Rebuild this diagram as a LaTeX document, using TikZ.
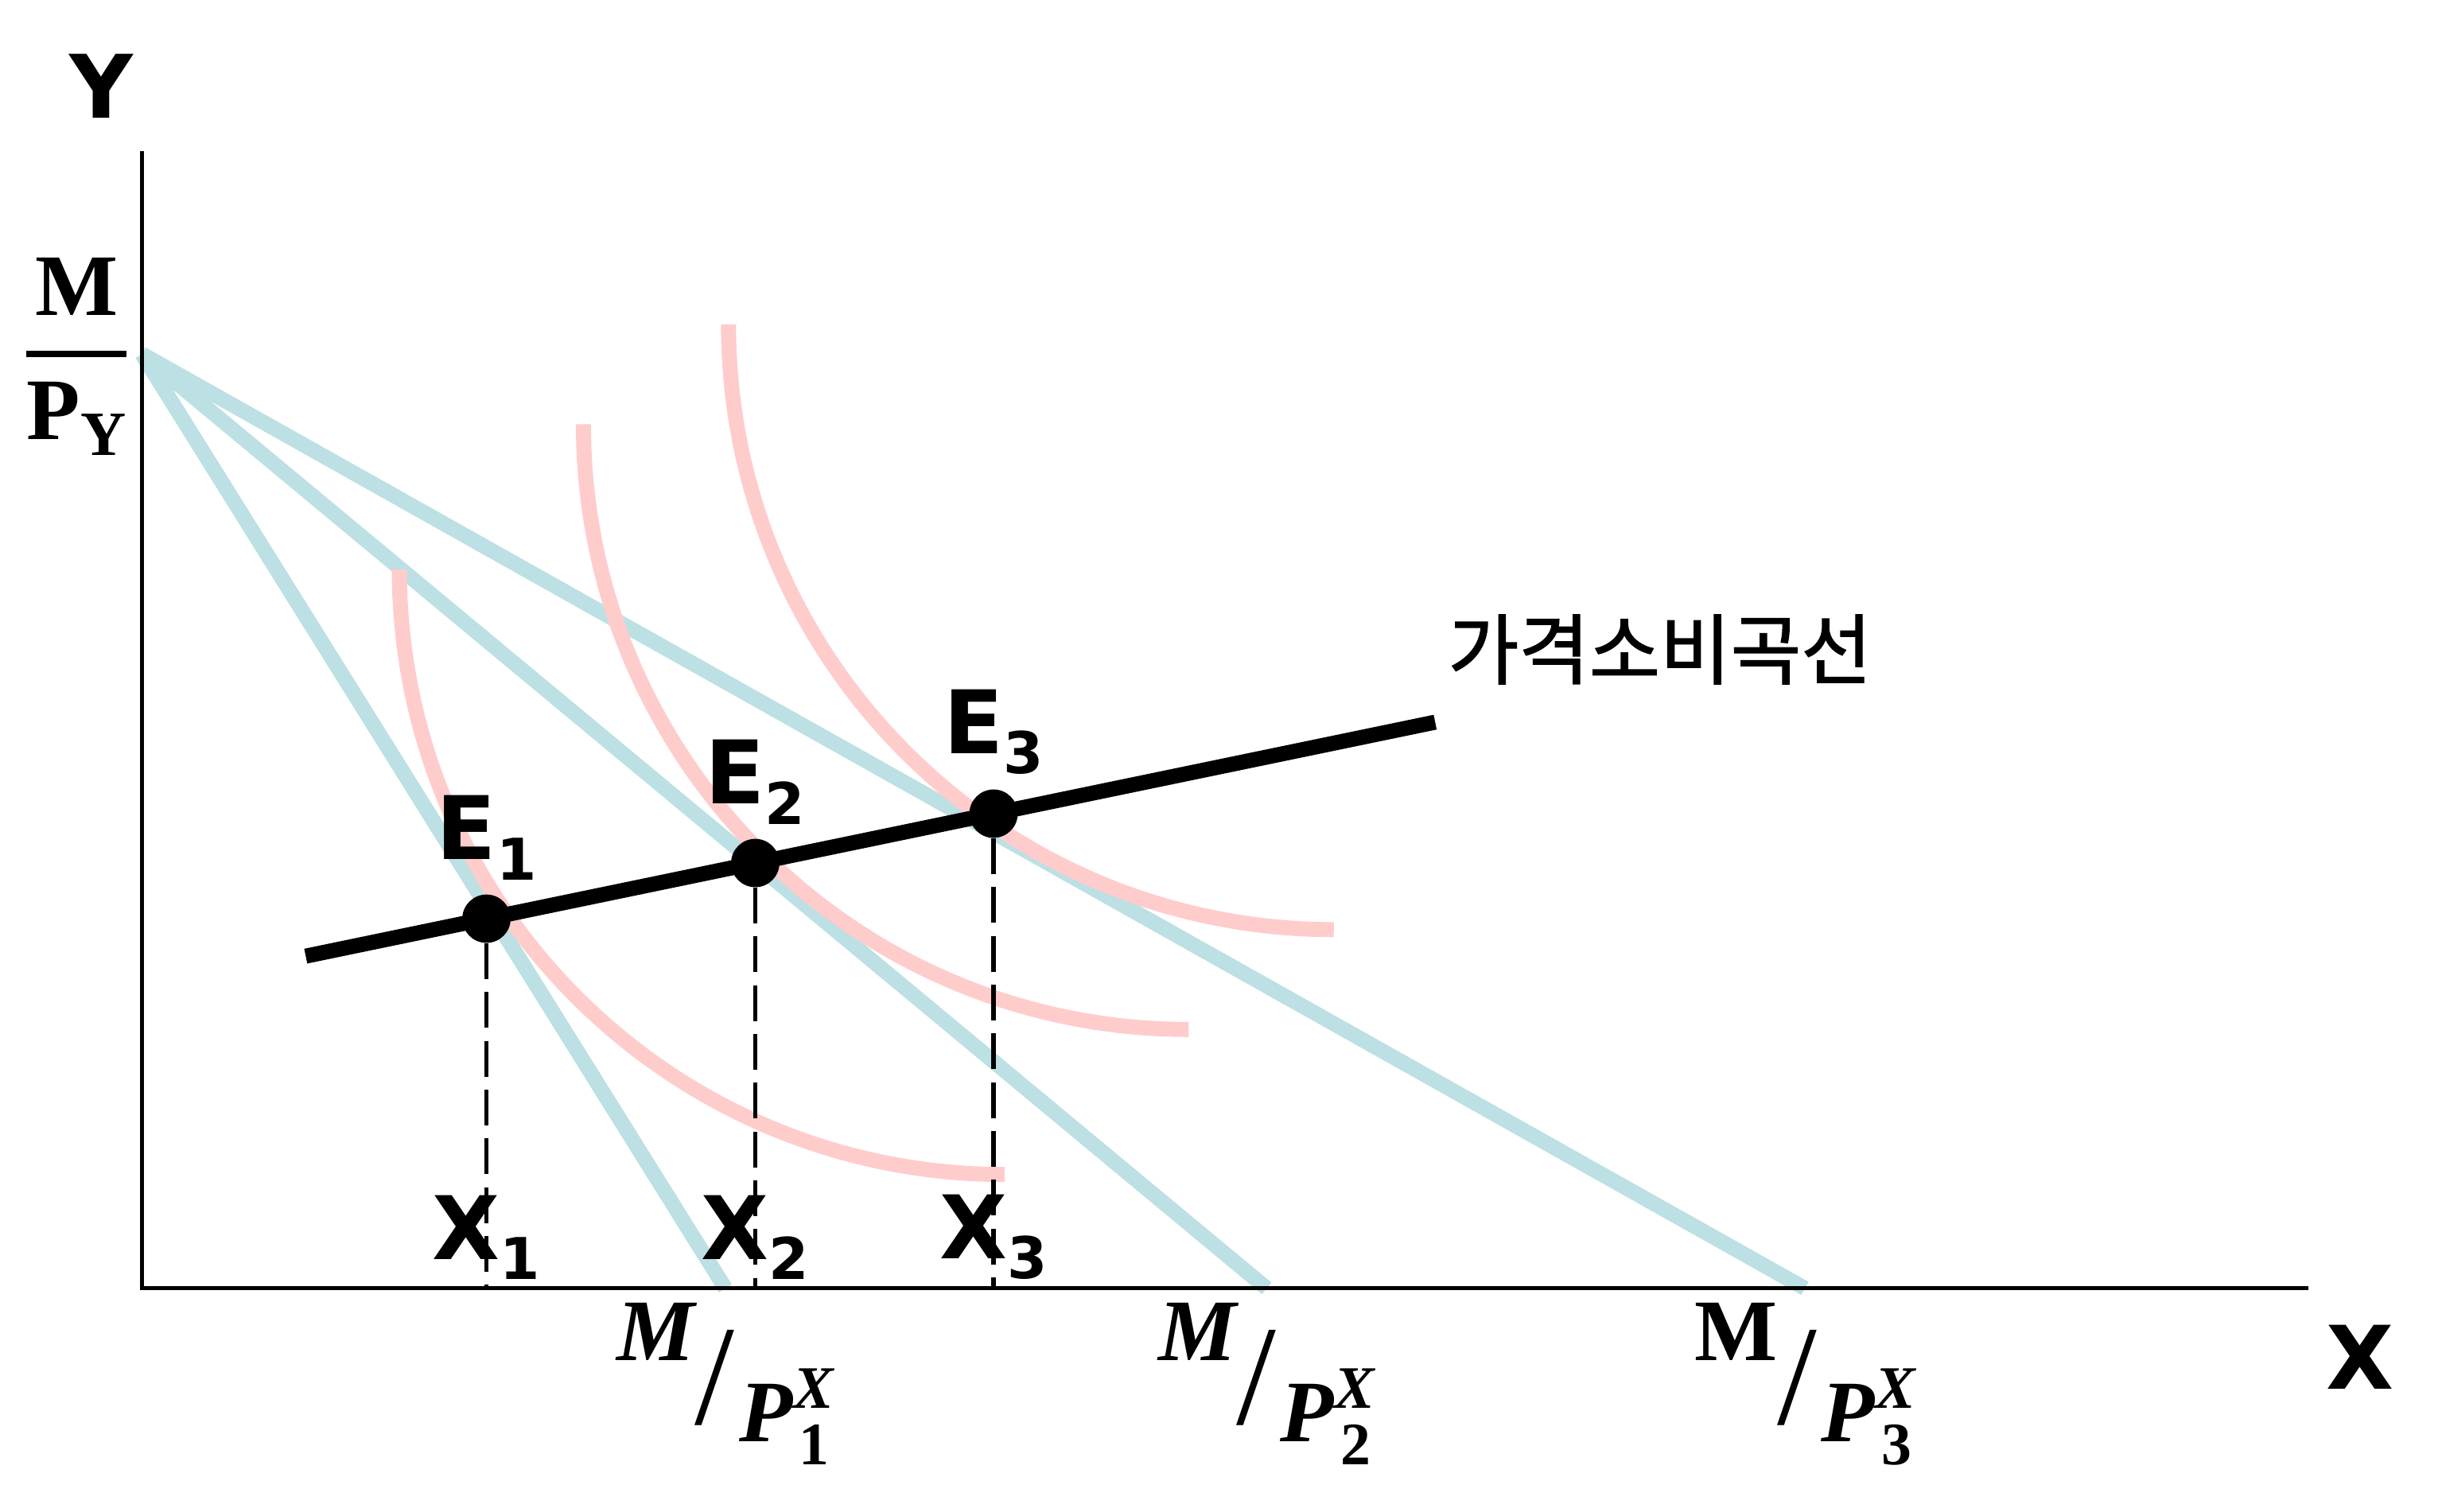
\documentclass[tikz,border=0pt]{standalone}
\usepackage{fontspec}
\usepackage{graphicx}
\usetikzlibrary{positioning}
\newfontfamily\sansfam{DejaVu Sans}
\newfontfamily\seriffam{Liberation Serif}
\newfontfamily\korfam{Noto Sans CJK KR}[FakeBold=1.5]
\definecolor{budgetblue}{RGB}{188,224,227}
\definecolor{icpink}{RGB}{255,204,204}
\newcommand{\lowsub}[1]{\raisebox{-0.23em}{\fontsize{21pt}{21pt}\selectfont #1}} % lowered index
\newcommand{\mpx}[2]{% #1: shape of M, #2: index of the price
  \raisebox{1.04cm}{#1M}%
  \raisebox{0.22cm}{\fontsize{52pt}{52pt}\selectfont\mdseries\upshape /}%
  \kern0.05em\textit{P}%
  \rlap{\raisebox{-0.3cm}{\fontsize{22pt}{22pt}\selectfont\upshape\kern0.1em #2}}%
  \raisebox{0.42cm}{\fontsize{22pt}{22pt}\selectfont\itshape X}%
}

\begin{document}
\begin{tikzpicture}[x=0.02cm, y=0.02cm,
  budget/.style={line width=5.5pt, budgetblue},
  icurve/.style={line width=5.5pt, icpink},
  axis/.style={line width=1.5pt},
  pcc/.style={line width=5.5pt},
  drop/.style={line width=1.6pt, dash pattern=on 13pt off 4.8pt},
  dot/.style={circle, fill=black, minimum size=0.62cm, inner sep=0pt},
  lab/.style={font=\sansfam\bfseries\fontsize{32pt}{32pt}\selectfont, inner sep=1pt},
  slab/.style={font=\seriffam\bfseries\fontsize{32pt}{32pt}\selectfont, inner sep=0pt}]

\useasboundingbox (0,0) rectangle (1568,969);

% Axes
\coordinate (o) at (91,143);
\coordinate (ytop) at (91,872);
\coordinate (xend) at (1480,143);

% Budget lines from the Y intercept
\coordinate (a) at (91,742);
\coordinate (b1) at (465,143);
\coordinate (b2) at (812,143);
\coordinate (b3) at (1157,143);
\foreach \i in {1,2,3}
{
    \draw[budget] (a) -- (b\i);
}

% Indifference curves (quarter circles)
\foreach \x/\y in {256/604,374/697,467/761}
{
    \draw[icurve] (\x,\y) arc[start angle=180, end angle=270, radius=388];
}

\draw[axis] (ytop) -- (o) -- (xend);

% Price consumption curve
\coordinate (p1) at (196,356);
\coordinate (p2) at (920,506);
\draw[pcc] (p1) -- (p2);

% Equilibrium points
\path (p1) -- (p2)
  node[dot, pos=0.160] (e1) {}
  node[dot, pos=0.398] (e2) {}
  node[dot, pos=0.609] (e3) {};

\foreach \i in {1,2,3}
{
    \coordinate (f\i) at (e\i |- o);
    \draw[drop] (e\i.south) -- (f\i);
    \node[lab, above=4pt of e\i] (le\i) {E\lowsub{\i}};
    \node[lab, above=2pt of f\i] (lx\i) {X\lowsub{\i}};
}

% Axis labels
\node[lab] (ylab) at (65,914) {Y};
\node[lab] (xlab) at (1513,99) {X};

% M / P_Y
\node[slab] (mnum) at (49,785) {M};
\node[slab, anchor=base] (pden) at (49,687) {P\raisebox{-0.2cm}{\fontsize{23pt}{23pt}\selectfont Y}};
\draw[line width=2.4pt] (pden.west |- a) -- (pden.east |- a);

% M / P_X labels
\foreach \i/\x/\s in {1/465/\itshape,2/812/\itshape,3/1157/\upshape}
{
    \node[slab, anchor=base] (mp\i) at (\x,45) {\mpx{\s}{\i}};
}

\node[inner sep=0pt, font=\korfam\fontsize{28pt}{28pt}\selectfont, above right=0.48cm and 0.16cm of p2] (pcclab) {가격소비곡선};

\end{tikzpicture}
\end{document}
